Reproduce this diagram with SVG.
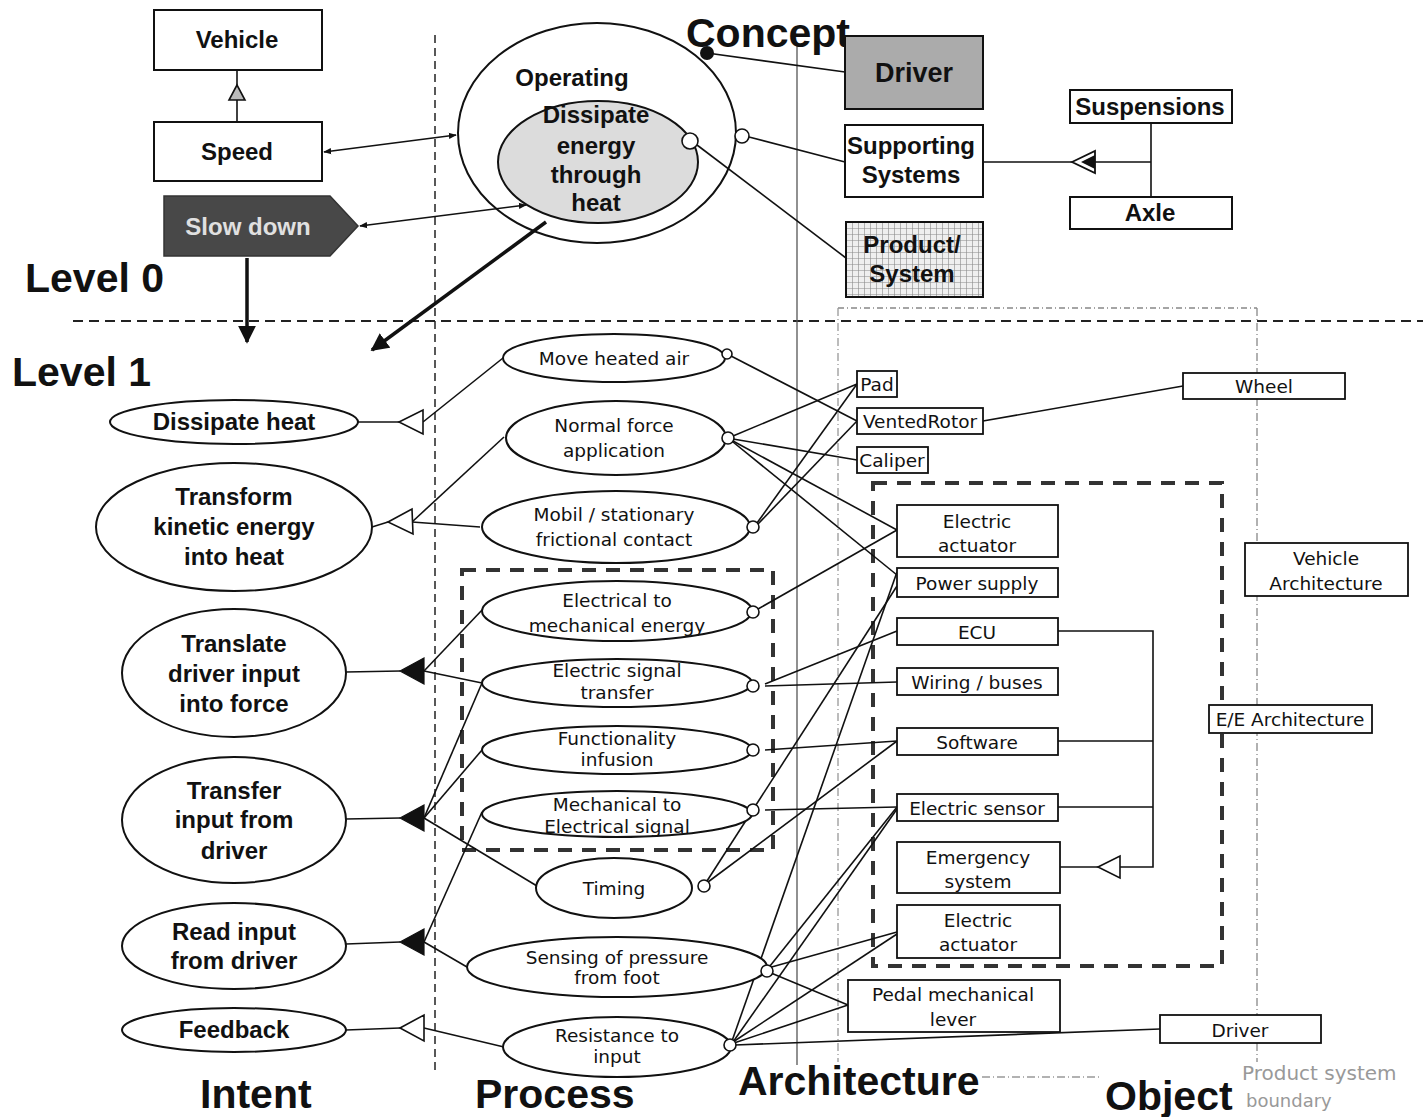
<svg xmlns="http://www.w3.org/2000/svg" width="1423" height="1117" viewBox="0 0 1423 1117">
  <defs>
    <style>
      .box { fill: #fff; stroke: #111; stroke-width: 2; }
      .obox { fill: #fff; stroke: #111; stroke-width: 1.8; }
      .ell { fill: #fff; stroke: #111; stroke-width: 2; }
      .ln { fill: none; stroke: #111; stroke-width: 1.6; }
      .thick { fill: none; stroke: #111; stroke-width: 3.5; }
      .port { fill: #fff; stroke: #111; stroke-width: 1.6; }
      .b24 { font-family: "Liberation Sans", Arial, sans-serif; font-weight: bold; font-size: 24px; fill: #111; text-anchor: middle; }
      .big { font-family: "Liberation Sans", Arial, sans-serif; font-weight: bold; font-size: 41px; fill: #111; }
      .n19 { font-family: "DejaVu Sans", Verdana, sans-serif; font-size: 18.5px; fill: #111; text-anchor: middle; }
      .grp { fill: none; stroke: #333; stroke-width: 4; stroke-dasharray: 14 10; }
      .hollow { fill: #fff; stroke: #111; stroke-width: 1.6; }
      .solid { fill: #111; stroke: #111; stroke-width: 1.2; }
    </style>
    <pattern id="grid" width="6" height="6" patternUnits="userSpaceOnUse">
      <rect width="6" height="6" fill="#efefef"/>
      <path d="M0,0 H6 M0,0 V6" stroke="#8a8a8a" stroke-width="1.2"/>
    </pattern>
    <marker id="ah" viewBox="0 0 10 10" refX="9" refY="5" markerWidth="8" markerHeight="8" orient="auto-start-reverse" markerUnits="userSpaceOnUse">
      <path d="M0,1 L10,5 L0,9 z" fill="#111"/>
    </marker>
    <marker id="bigah" viewBox="0 0 10 10" refX="9" refY="5" markerWidth="18" markerHeight="18" orient="auto" markerUnits="userSpaceOnUse">
      <path d="M0,0 L10,5 L0,10 z" fill="#111"/>
    </marker>
  </defs>

  <rect width="1423" height="1117" fill="#fff"/>

  <!-- frame lines: levels, columns, product system boundary -->
  <g id="frame">
    <line x1="73" y1="321" x2="1423" y2="321" stroke="#222" stroke-width="2" stroke-dasharray="10 6"/>
    <line x1="435" y1="35" x2="435" y2="1070" stroke="#222" stroke-width="1.5" stroke-dasharray="8 5"/>
    <line x1="797" y1="45" x2="797" y2="1065" stroke="#555" stroke-width="1.3"/>
    <path d="M838,308 H1257" fill="none" stroke="#888" stroke-width="1.3" stroke-dasharray="6 3 1 3"/>
    <path d="M838,308 V1062" fill="none" stroke="#999" stroke-width="1.3" stroke-dasharray="8 3 1 3"/>
    <path d="M1257,308 V1062" fill="none" stroke="#888" stroke-width="1.3" stroke-dasharray="8 3 1 3"/>
    <path d="M982,1077 H1100" fill="none" stroke="#999" stroke-width="1.3" stroke-dasharray="8 3 1 3"/>
    <rect class="grp" x="462" y="570" width="311" height="280"/>
    <rect class="grp" x="873" y="483" width="349" height="483"/>
  </g>

  <!-- column and level labels -->
  <g id="labels">
    <text class="big" x="25" y="292" font-size="40">Level 0</text>
    <text class="big" x="12" y="386" font-size="40">Level 1</text>
    <text class="big" x="686" y="47">Concept</text>
    <text class="big" x="200" y="1108">Intent</text>
    <text class="big" x="475" y="1108">Process</text>
    <text class="big" x="738" y="1095">Architecture</text>
    <text class="big" x="1105" y="1110">Object</text>
    <text x="1242" y="1080" font-family="DejaVu Sans, sans-serif" font-size="20" fill="#999">Product system</text>
    <text x="1246" y="1107" font-family="DejaVu Sans, sans-serif" font-size="18" fill="#999">boundary</text>
  </g>

  <!-- connectors -->
  <g id="connectors">
    <!-- level 0 -->
    <line class="ln" x1="237" y1="121" x2="237" y2="100"/>
    <line class="ln" x1="237" y1="86" x2="237" y2="70"/>
    <line class="ln" x1="324" y1="152" x2="456" y2="135" marker-start="url(#ah)" marker-end="url(#ah)"/>
    <line class="ln" x1="360" y1="226" x2="526" y2="205" marker-start="url(#ah)" marker-end="url(#ah)"/>
    <line class="thick" x1="546" y1="222" x2="372" y2="350" marker-end="url(#bigah)"/>
    <line class="thick" x1="247" y1="258" x2="247" y2="342" marker-end="url(#bigah)"/>
    <line class="ln" x1="707" y1="53" x2="845" y2="72"/>
    <line class="ln" x1="749" y1="137" x2="845" y2="162"/>
    <line class="ln" x1="697" y1="145" x2="846" y2="258"/>
    <path class="ln" d="M983,162 H1151 M1151,123 V197"/>

    <!-- intent to process -->
    <line class="ln" x1="358" y1="422" x2="399" y2="422"/>
    <line class="ln" x1="423" y1="422" x2="503" y2="358"/>
    <line class="ln" x1="372" y1="527" x2="388" y2="522"/>
    <line class="ln" x1="412" y1="522" x2="504" y2="437"/>
    <line class="ln" x1="412" y1="522" x2="480" y2="527"/>
    <line class="ln" x1="346" y1="672" x2="400" y2="671"/>
    <line class="ln" x1="424" y1="671" x2="483" y2="609"/>
    <line class="ln" x1="424" y1="671" x2="482" y2="683"/>
    <line class="ln" x1="346" y1="819" x2="400" y2="818"/>
    <line class="ln" x1="424" y1="818" x2="482" y2="683"/>
    <line class="ln" x1="424" y1="818" x2="482" y2="750"/>
    <line class="ln" x1="424" y1="818" x2="537" y2="886"/>
    <line class="ln" x1="346" y1="944" x2="400" y2="942"/>
    <line class="ln" x1="424" y1="942" x2="482" y2="812"/>
    <line class="ln" x1="424" y1="942" x2="467" y2="967"/>
    <line class="ln" x1="346" y1="1030" x2="400" y2="1028"/>
    <line class="ln" x1="424" y1="1028" x2="504" y2="1047"/>

    <!-- process to object -->
    <line class="ln" x1="731" y1="356" x2="857" y2="421"/>
    <line class="ln" x1="733" y1="436" x2="857" y2="384"/>
    <line class="ln" x1="733" y1="439" x2="857" y2="460"/>
    <line class="ln" x1="733" y1="441" x2="897" y2="530"/>
    <line class="ln" x1="733" y1="442" x2="897" y2="575"/>
    <line class="ln" x1="757" y1="523" x2="857" y2="384"/>
    <line class="ln" x1="758" y1="524" x2="857" y2="421"/>
    <line class="ln" x1="983" y1="421" x2="1183" y2="386"/>
    <line class="ln" x1="758" y1="609" x2="897" y2="530"/>
    <line class="ln" x1="765" y1="684" x2="897" y2="631"/>
    <line class="ln" x1="765" y1="686" x2="897" y2="682"/>
    <line class="ln" x1="765" y1="750" x2="897" y2="741"/>
    <line class="ln" x1="765" y1="810" x2="897" y2="807"/>
    <line class="ln" x1="708" y1="882" x2="897" y2="741"/>
    <line class="ln" x1="707" y1="881" x2="897" y2="586"/>
    <line class="ln" x1="770" y1="966" x2="897" y2="807"/>
    <line class="ln" x1="771" y1="973" x2="848" y2="1005"/>
    <line class="ln" x1="768" y1="968" x2="897" y2="932"/>
    <line class="ln" x1="732" y1="1041" x2="897" y2="572"/>
    <line class="ln" x1="733" y1="1042" x2="897" y2="809"/>
    <line class="ln" x1="733" y1="1042" x2="897" y2="934"/>
    <line class="ln" x1="734" y1="1043" x2="848" y2="1005"/>
    <line class="ln" x1="735" y1="1045" x2="1160" y2="1029"/>

    <!-- object hierarchy -->
    <path class="ln" d="M1058,631 H1153 V867 H1120 M1058,741 H1153 M1058,807 H1153"/>
    <line class="ln" x1="1098" y1="867" x2="1060" y2="867"/>

    <!-- arrowheads -->
    <polygon points="237,85 229,100 245,100" fill="#bbb" stroke="#111" stroke-width="1.6"/>
    <polygon points="1072,162 1095,151 1095,173" fill="#fff" stroke="#111" stroke-width="1.8"/>
    <polygon points="1081,162 1095,155 1095,169" fill="#111"/>
    <polygon class="hollow" points="399,422 423,410 423,434"/>
    <polygon class="hollow" points="388,522 412,509 413,534"/>
    <polygon class="solid" points="400,671 424,658 424,684"/>
    <polygon class="solid" points="400,818 424,805 424,831"/>
    <polygon class="solid" points="400,942 424,929 424,955"/>
    <polygon class="hollow" points="400,1028 424,1015 424,1041"/>
    <polygon class="hollow" points="1098,867 1120,856 1120,878"/>
  </g>

  <!-- level 0 nodes -->
  <g id="vehicle"><rect class="box" x="154" y="10" width="168" height="60"/><text class="b24" x="237" y="48">Vehicle</text></g>
  <g id="speed"><rect class="box" x="154" y="122" width="168" height="59"/><text class="b24" x="237" y="160">Speed</text></g>
  <g id="slow-down">
    <path d="M164,196 H330 L358,226 L330,256 H164 Z" fill="#484848" stroke="#333" stroke-width="1.5"/>
    <text class="b24" x="248" y="235" style="fill:#e0e0e0">Slow down</text>
  </g>
  <g id="operating">
    <ellipse cx="597" cy="133" rx="139" ry="110" fill="none" stroke="#111" stroke-width="2"/>
    <text class="b24" x="572" y="86">Operating</text>
  </g>
  <g id="dissipate-energy">
    <ellipse cx="598" cy="162" rx="100" ry="61" fill="#dcdcdc" stroke="#111" stroke-width="2"/>
    <text class="b24" x="596" y="123">Dissipate</text>
    <text class="b24" x="596" y="154">energy</text>
    <text class="b24" x="596" y="183">through</text>
    <text class="b24" x="596" y="211">heat</text>
    <circle class="port" cx="690" cy="141" r="8"/>
    <circle class="port" cx="742" cy="136" r="7"/>
    <circle cx="707" cy="53" r="7" fill="#111"/>
  </g>
  <g id="driver-concept"><rect x="845" y="36" width="138" height="73" fill="#ababab" stroke="#111" stroke-width="2"/><text class="b24" x="914" y="82" style="font-size:27px">Driver</text></g>
  <g id="supporting-systems"><rect class="box" x="845" y="125" width="138" height="72"/><text class="b24" x="911" y="154">Supporting</text><text class="b24" x="911" y="183">Systems</text></g>
  <g id="product-system"><rect x="846" y="222" width="137" height="75" fill="url(#grid)" stroke="#111" stroke-width="2"/><text class="b24" x="912" y="253">Product/</text><text class="b24" x="912" y="282">System</text></g>
  <g id="suspensions"><rect class="box" x="1070" y="90" width="162" height="33"/><text class="b24" x="1150" y="115">Suspensions</text></g>
  <g id="axle"><rect class="box" x="1070" y="197" width="162" height="32"/><text class="b24" x="1150" y="221">Axle</text></g>

  <!-- intent nodes -->
  <g id="dissipate-heat"><ellipse class="ell" cx="234" cy="422" rx="124" ry="22"/><text class="b24" x="234" y="430">Dissipate heat</text></g>
  <g id="transform"><ellipse class="ell" cx="234" cy="527" rx="138" ry="64"/><text class="b24" x="234" y="505">Transform</text><text class="b24" x="234" y="535">kinetic energy</text><text class="b24" x="234" y="565">into heat</text></g>
  <g id="translate"><ellipse class="ell" cx="234" cy="673" rx="112" ry="64"/><text class="b24" x="234" y="652">Translate</text><text class="b24" x="234" y="682">driver input</text><text class="b24" x="234" y="712">into force</text></g>
  <g id="transfer"><ellipse class="ell" cx="234" cy="820" rx="112" ry="63"/><text class="b24" x="234" y="799">Transfer</text><text class="b24" x="234" y="828">input from</text><text class="b24" x="234" y="859">driver</text></g>
  <g id="read-input"><ellipse class="ell" cx="234" cy="946" rx="112" ry="43"/><text class="b24" x="234" y="940">Read input</text><text class="b24" x="234" y="969">from driver</text></g>
  <g id="feedback"><ellipse class="ell" cx="234" cy="1030" rx="112" ry="22"/><text class="b24" x="234" y="1038">Feedback</text></g>

  <!-- process nodes -->
  <g id="move-heated-air"><ellipse class="ell" cx="614" cy="358" rx="111" ry="24"/><text class="n19" x="614" y="365">Move heated air</text><circle class="port" cx="727" cy="354" r="5"/></g>
  <g id="normal-force"><ellipse class="ell" cx="616" cy="438" rx="110" ry="37"/><text class="n19" x="614" y="432">Normal force</text><text class="n19" x="614" y="457">application</text><circle class="port" cx="728" cy="438" r="6"/></g>
  <g id="frictional-contact"><ellipse class="ell" cx="616" cy="527" rx="134" ry="36"/><text class="n19" x="614" y="521">Mobil / stationary</text><text class="n19" x="614" y="546">frictional contact</text><circle class="port" cx="753" cy="527" r="6"/></g>
  <g id="elec-to-mech"><ellipse class="ell" cx="617" cy="611" rx="135" ry="30"/><text class="n19" x="617" y="607">Electrical to</text><text class="n19" x="617" y="632">mechanical energy</text><circle class="port" cx="753" cy="612" r="6"/></g>
  <g id="signal-transfer"><ellipse class="ell" cx="617" cy="683" rx="135" ry="24"/><text class="n19" x="617" y="677">Electric signal</text><text class="n19" x="617" y="699">transfer</text><circle class="port" cx="753" cy="686" r="6"/></g>
  <g id="functionality"><ellipse class="ell" cx="617" cy="750" rx="135" ry="24"/><text class="n19" x="617" y="745">Functionality</text><text class="n19" x="617" y="766">infusion</text><circle class="port" cx="753" cy="750" r="6"/></g>
  <g id="mech-to-elec"><ellipse class="ell" cx="617" cy="814" rx="135" ry="23"/><text class="n19" x="617" y="811">Mechanical to</text><text class="n19" x="617" y="833">Electrical signal</text><circle class="port" cx="753" cy="810" r="6"/></g>
  <g id="timing"><ellipse class="ell" cx="614" cy="888" rx="78" ry="30"/><text class="n19" x="614" y="895">Timing</text><circle class="port" cx="704" cy="886" r="6"/></g>
  <g id="sensing"><ellipse class="ell" cx="617" cy="967" rx="150" ry="30"/><text class="n19" x="617" y="964">Sensing of pressure</text><text class="n19" x="617" y="984">from foot</text><circle class="port" cx="767" cy="971" r="6"/></g>
  <g id="resistance"><ellipse class="ell" cx="617" cy="1047" rx="114" ry="30"/><text class="n19" x="617" y="1042">Resistance to</text><text class="n19" x="617" y="1063">input</text><circle class="port" cx="730" cy="1045" r="6"/></g>

  <!-- object nodes -->
  <g id="pad"><rect class="obox" x="857" y="371" width="40" height="26"/><text class="n19" x="877" y="391">Pad</text></g>
  <g id="vented-rotor"><rect class="obox" x="857" y="408" width="126" height="26"/><text class="n19" x="920" y="428">VentedRotor</text></g>
  <g id="caliper"><rect class="obox" x="857" y="447" width="71" height="26"/><text class="n19" x="892" y="467">Caliper</text></g>
  <g id="wheel"><rect class="obox" x="1183" y="373" width="162" height="26"/><text class="n19" x="1264" y="393">Wheel</text></g>
  <g id="electric-actuator-1"><rect class="obox" x="897" y="505" width="161" height="52"/><text class="n19" x="977" y="528">Electric</text><text class="n19" x="977" y="552">actuator</text></g>
  <g id="power-supply"><rect class="obox" x="897" y="568" width="161" height="29"/><text class="n19" x="977" y="590">Power supply</text></g>
  <g id="ecu"><rect class="obox" x="897" y="618" width="161" height="27"/><text class="n19" x="977" y="639">ECU</text></g>
  <g id="wiring"><rect class="obox" x="897" y="668" width="161" height="27"/><text class="n19" x="977" y="689">Wiring / buses</text></g>
  <g id="software"><rect class="obox" x="897" y="728" width="161" height="27"/><text class="n19" x="977" y="749">Software</text></g>
  <g id="electric-sensor"><rect class="obox" x="897" y="794" width="161" height="27"/><text class="n19" x="977" y="815">Electric sensor</text></g>
  <g id="emergency-system"><rect class="obox" x="897" y="842" width="163" height="51"/><text class="n19" x="978" y="864">Emergency</text><text class="n19" x="978" y="888">system</text></g>
  <g id="electric-actuator-2"><rect class="obox" x="897" y="905" width="163" height="53"/><text class="n19" x="978" y="927">Electric</text><text class="n19" x="978" y="951">actuator</text></g>
  <g id="pedal-lever"><rect class="obox" x="848" y="980" width="212" height="52"/><text class="n19" x="953" y="1001">Pedal mechanical</text><text class="n19" x="953" y="1026">lever</text></g>
  <g id="driver-object"><rect class="obox" x="1160" y="1015" width="161" height="28"/><text class="n19" x="1240" y="1037">Driver</text></g>
  <g id="vehicle-architecture"><rect class="obox" x="1245" y="543" width="163" height="53"/><text class="n19" x="1326" y="565">Vehicle</text><text class="n19" x="1326" y="590">Architecture</text></g>
  <g id="ee-architecture"><rect class="obox" x="1209" y="705" width="163" height="28"/><text class="n19" x="1290" y="726">E/E Architecture</text></g>
</svg>
